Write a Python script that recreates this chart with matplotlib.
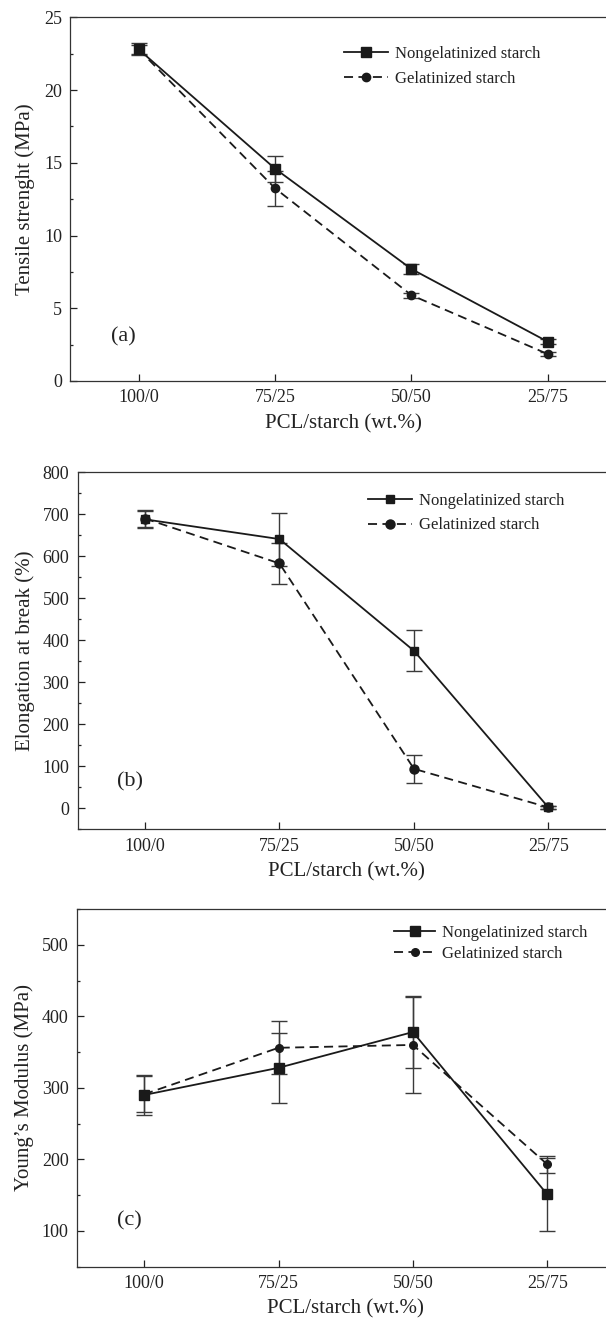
import matplotlib
matplotlib.use('Agg')
import matplotlib.pyplot as plt
from matplotlib.ticker import MultipleLocator

plt.rcParams['font.family'] = ['Liberation Serif', 'DejaVu Serif']
plt.rcParams['text.color'] = '#222222'
plt.rcParams['axes.labelcolor'] = '#222222'
plt.rcParams['xtick.color'] = '#222222'
plt.rcParams['ytick.color'] = '#222222'

# data
blends = ['100/0', '75/25', '50/50', '25/75']
xpos = [1, 2, 3, 4]

tensile_nongel = [22.8, 14.6, 7.7, 2.7]
tensile_nongel_err = [0.4, 0.9, 0.35, 0.18]
tensile_gel = [22.8, 13.25, 5.9, 1.85]
tensile_gel_err = [0.3, 1.2, 0.18, 0.15]

elong_nongel = [688, 641, 375, 2]
elong_nongel_err = [21, 63, 49, 3]
elong_gel = [690, 583, 94, 2]
elong_gel_err = [20, 48, 33, 3]

modulus_nongel = [290, 328, 378, 151]
modulus_nongel_err = [28, 49, 50, 51]
modulus_gel = [291, 356, 360, 193]
modulus_gel_err = [25, 37, 67, 12]

W, H = 606, 1320
fig = plt.figure(figsize=(W / 100, H / 100), dpi=100)


def px_axes(left, top, bottom, right):
    return fig.add_axes([left / W, 1 - bottom / H, (right - left) / W, (bottom - top) / H])


def draw_panel(ax, y1, e1, y2, e2, ylabel, tag, tag_y, ylim, major, minor,
               leg_xy, ms_sq, ms_ci, lab_spacing, hlen):
    ax.errorbar(xpos, y1, yerr=e1, fmt='none', ecolor='#3a3a3a', elinewidth=1.0,
                capsize=5.8, capthick=1.0, zorder=2)
    ax.errorbar(xpos, y2, yerr=e2, fmt='none', ecolor='#3a3a3a', elinewidth=1.0,
                capsize=5.8, capthick=1.0, zorder=2)
    ax.plot(xpos, y1, '-', color='#1a1a1a', lw=1.3, marker='s', ms=ms_sq,
            label='Nongelatinized starch', zorder=3)
    ax.plot(xpos, y2, color='#1a1a1a', lw=1.3, ls=(0, (5, 3)), marker='o', ms=ms_ci,
            label='Gelatinized starch', zorder=3)

    ax.set_xlim(0.5, 4.5)
    ax.set_ylim(*ylim)
    ax.set_xticks(xpos)
    ax.set_xticklabels(blends)
    ax.yaxis.set_major_locator(MultipleLocator(major))
    ax.yaxis.set_minor_locator(MultipleLocator(minor))
    ax.tick_params(axis='both', which='major', direction='in', length=5, width=0.9,
                   labelsize=13, pad=6)
    ax.tick_params(axis='y', which='minor', direction='in', length=2.5, width=0.9)
    ax.tick_params(axis='x', which='minor', bottom=False)
    for s in ax.spines.values():
        s.set_linewidth(0.9)
        s.set_color('#333333')

    ax.set_xlabel('PCL/starch (wt.%)', fontsize=15)
    ax.set_ylabel(ylabel, fontsize=15)
    ax.xaxis.set_label_coords(0.5, -0.092)

    ax.text(0.89, tag_y, tag, fontsize=16, ha='center', va='center')

    ax.legend(loc='upper left', bbox_to_anchor=leg_xy, bbox_transform=fig.transFigure,
              frameon=False, fontsize=12, borderpad=0, borderaxespad=0,
              handlelength=hlen, handletextpad=0.4, labelspacing=lab_spacing)


ax1 = px_axes(70.4, 17.3, 381, 616)
draw_panel(ax1, tensile_nongel, tensile_nongel_err, tensile_gel, tensile_gel_err,
           'Tensile strenght (MPa)', '(a)', 3.0, (0, 25), 5, 2.5,
           (344 / W, 1 - 46 / H), 7, 6, 0.55, 2.65)
ax1.yaxis.set_label_coords(-(70.4 - 35) / (616 - 70.4), 0.5)

ax2 = px_axes(77.7, 472.3, 829.3, 615.7)
draw_panel(ax2, elong_nongel, elong_nongel_err, elong_gel, elong_gel_err,
           'Elongation at break (%)', '(b)', 62, (-50, 800), 100, 50,
           (368 / W, 1 - 493 / H), 5.5, 6.5, 0.5, 2.65)
ax2.yaxis.set_label_coords(-(77.7 - 35) / (615.7 - 77.7), 0.5)

ax3 = px_axes(76.9, 909, 1266.7, 614.5)
draw_panel(ax3, modulus_nongel, modulus_nongel_err, modulus_gel, modulus_gel_err,
           'Young\u2019s Modulus (MPa)', '(c)', 114, (50, 550), 100, 50,
           (394.3 / W, 1 - 925 / H), 7, 5.5, 0.3, 2.45)
ax3.yaxis.set_label_coords(-(76.9 - 34) / (614.5 - 76.9), 0.5)
ax3.set_yticks([100, 200, 300, 400, 500])

fig.savefig('out.png', dpi=100)
